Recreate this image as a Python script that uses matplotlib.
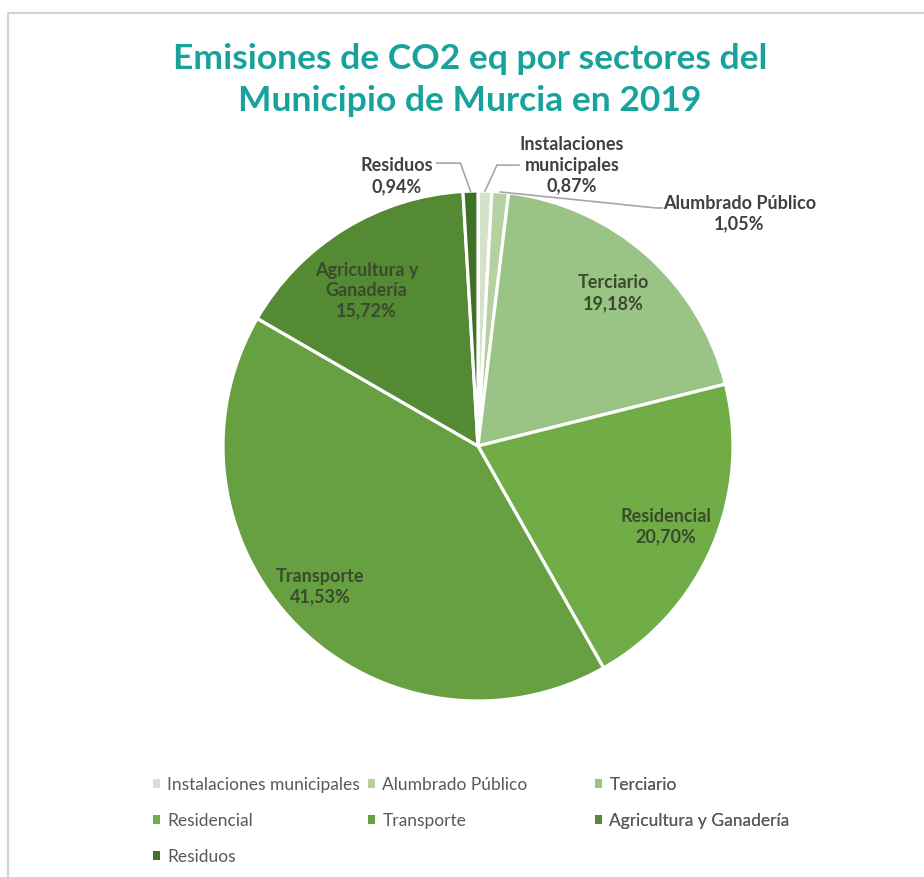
import numpy as np
import matplotlib
matplotlib.use('Agg')
import matplotlib.pyplot as plt
from matplotlib.patches import Rectangle

# datos de la grafica
sectores = ['Instalaciones municipales', 'Alumbrado Público', 'Terciario',
            'Residencial', 'Transporte', 'Agricultura y Ganadería', 'Residuos']
etiquetas = ['Instalaciones\nmunicipales', 'Alumbrado Público', 'Terciario',
             'Residencial', 'Transporte', 'Agricultura y\nGanadería', 'Residuos']
porcentajes = [0.87, 1.05, 19.18, 20.70, 41.53, 15.72, 0.94]
colores = ['#d3e2c8', '#b5d1a0', '#9ac386', '#70ad47', '#67a040', '#558a35', '#3e7125']

W, H = 924, 877
plt.rcParams['font.family'] = ['Lato', 'DejaVu Sans']

fig = plt.figure(figsize=(W / 100, H / 100), dpi=100)
ax = fig.add_axes([0, 0, 1, 1])

# marco del grafico (solo se ven el borde izquierdo y el superior)
fig.patches.append(Rectangle((8 / W, -0.5), 2, 1.5 - 13 / H, transform=fig.transFigure,
                             fill=False, edgecolor='#d4d4d4', linewidth=1.6))

cx, cy, R = 478, H - 446, 255
wedges, _ = ax.pie(porcentajes, colors=colores, startangle=90, counterclock=False,
                   center=(cx, cy), radius=R, frame=True,
                   wedgeprops=dict(edgecolor='white', linewidth=2.3))
ax.set_xlim(0, W)
ax.set_ylim(0, H)
ax.set_aspect('equal')
ax.axis('off')

def pct(v):
    return ('%.2f%%' % v).replace('.', ',')

def medio(w):
    return np.deg2rad((w.theta1 + w.theta2) / 2)

# etiquetas dentro de los sectores grandes
dentro = {2: (0.80, 0), 3: (0.80, 0), 4: (0.83, -3), 5: (0.75, 4)}
for i, (fr, dang) in dentro.items():
    ang = medio(wedges[i]) + np.deg2rad(dang)
    ax.text(cx + fr * R * np.cos(ang), cy + fr * R * np.sin(ang),
            etiquetas[i] + '\n' + pct(porcentajes[i]),
            ha='center', va='center', fontsize=13, fontweight='bold',
            color='#3a4a2c', linespacing=1.25)

# etiquetas fuera con lineas guia: (texto, codo, final) relativos al borde
fuera = {6: ((-74, 15), (-10, 28), (-34, 28)),
         0: ((87, 26), (12, 26), (34, 26)),
         1: ((239, -22), (156, -16), (162, -16))}
for i, (dtxt, dcodo, dfin) in fuera.items():
    ang = medio(wedges[i])
    ex, ey = cx + R * np.cos(ang), cy + R * np.sin(ang)
    ax.text(ex + dtxt[0], ey + dtxt[1], etiquetas[i] + '\n' + pct(porcentajes[i]),
            ha='center', va='center', fontsize=13, fontweight='bold',
            color='#404040', linespacing=1.25)
    ax.plot([ex, ex + dcodo[0], ex + dfin[0]], [ey, ey + dcodo[1], ey + dfin[1]],
            color='#a6a6a6', linewidth=1.2)

fig.text(0.5 + 8 / W, 1 - 80 / H, 'Emisiones de CO2 eq por sectores del\nMunicipio de Murcia en 2019',
         ha='center', va='center', fontsize=25.5, fontweight='bold', color='#17a29b',
         linespacing=1.4)

# leyenda en tres columnas, repartida por filas como en Excel
columnas = [[0, 3, 6], [1, 4], [2, 5]]
xs = [144, 359, 586]
for col, x0 in zip(columnas, xs):
    leg = ax.legend([wedges[i] for i in col], [sectores[i] for i in col],
                    loc='upper left', bbox_to_anchor=(x0 / W, 1 - 768 / H),
                    bbox_transform=fig.transFigure, frameon=False, fontsize=12.5,
                    handlelength=0.45, handleheight=0.45, handletextpad=0.4,
                    labelspacing=1.15, borderpad=0, labelcolor='#595959')
    for h in leg.legend_handles:
        h.set_edgecolor('none')
    ax.add_artist(leg)

fig.savefig('out.png', dpi=100)
